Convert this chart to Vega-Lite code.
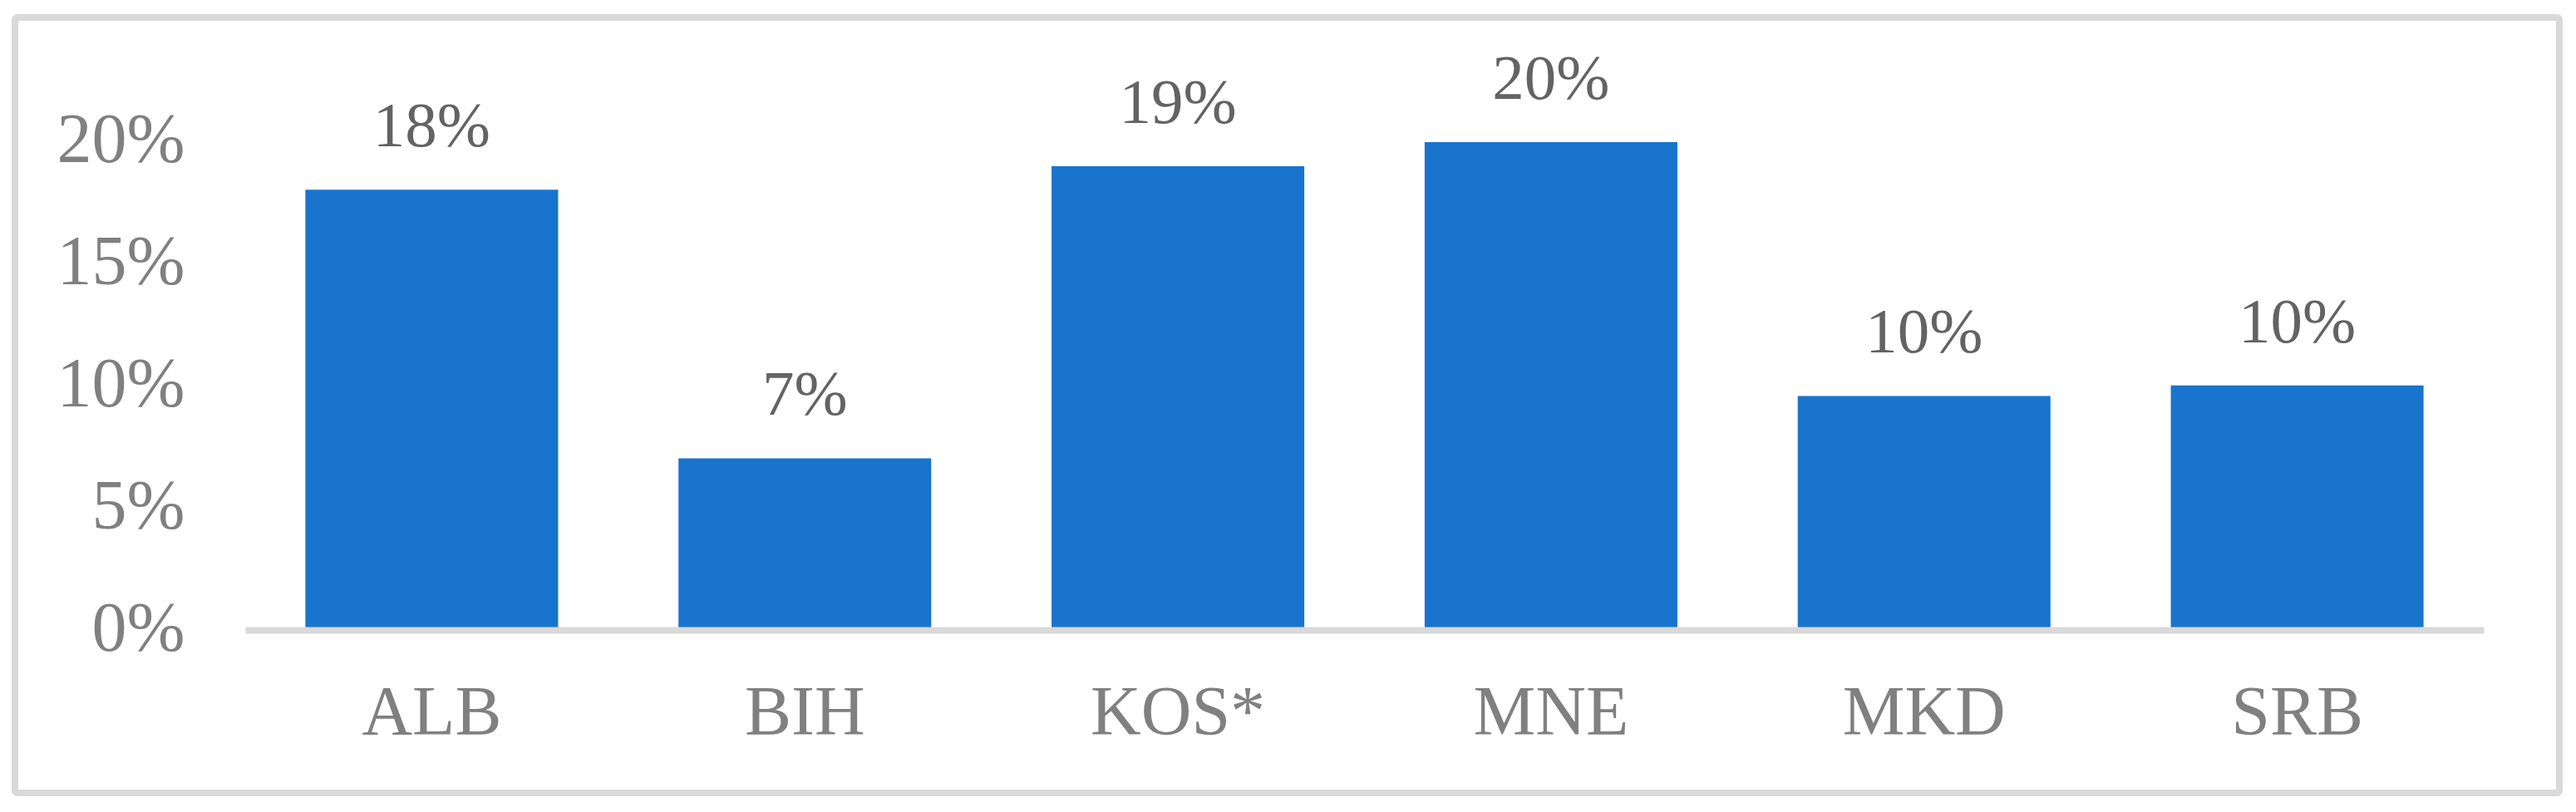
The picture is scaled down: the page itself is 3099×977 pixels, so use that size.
{
  "$schema": "https://vega.github.io/schema/vega-lite/v6.json",
  "autosize": "none",
  "padding": {"left": 18, "top": 21, "right": 20, "bottom": 23},
  "width": 3061,
  "height": 933,
  "background": "white",
  "config": {
    "view": {"stroke": "#D9D9D9", "strokeWidth": 8, "cornerRadius": 3},
    "font": "Liberation Serif"
  },
  "data": {
    "values": [
      {"country": "ALB", "v": 0.18},
      {"country": "BIH", "v": 0.07},
      {"country": "KOS*", "v": 0.1896},
      {"country": "MNE", "v": 0.1995},
      {"country": "MKD", "v": 0.0955},
      {"country": "SRB", "v": 0.0998}
    ]
  },
  "encoding": {
    "x": {
      "field": "country",
      "type": "nominal",
      "sort": null,
      "scale": {"range": [277, 2970], "paddingInner": 0.3226, "paddingOuter": 0.1613},
      "axis": {
        "title": null,
        "orient": "bottom",
        "offset": -196,
        "domainColor": "#D9D9D9",
        "domainWidth": 8,
        "ticks": false,
        "tickSize": 0,
        "labelAngle": 0,
        "labelLimit": 0,
        "labelFont": "Liberation Serif",
        "labelFontSize": 84,
        "labelColor": "#808080",
        "labelBaseline": "alphabetic",
        "labelPadding": 125,
        "grid": false,
        "zindex": 1
      }
    },
    "y": {
      "field": "v",
      "type": "quantitative",
      "scale": {"domain": [0, 0.2], "range": [736, 148.5], "nice": false, "zero": true},
      "axis": {
        "title": null,
        "values": [0, 0.05, 0.1, 0.15, 0.2],
        "format": ".0%",
        "domain": false,
        "ticks": false,
        "tickSize": 0,
        "grid": false,
        "offset": -204,
        "labelPadding": 0,
        "labelLimit": 0,
        "labelFont": "Liberation Serif",
        "labelFontSize": 84,
        "labelColor": "#808080",
        "labelBaseline": "middle"
      }
    }
  },
  "layer": [
    {"mark": {"type": "bar", "color": "#1874CD"}},
    {
      "mark": {"type": "text", "baseline": "alphabetic", "dy": -52, "fontSize": 77, "color": "#636363", "font": "Liberation Serif"},
      "encoding": {"text": {"field": "v", "type": "quantitative", "format": ".0%"}}
    }
  ]
}
